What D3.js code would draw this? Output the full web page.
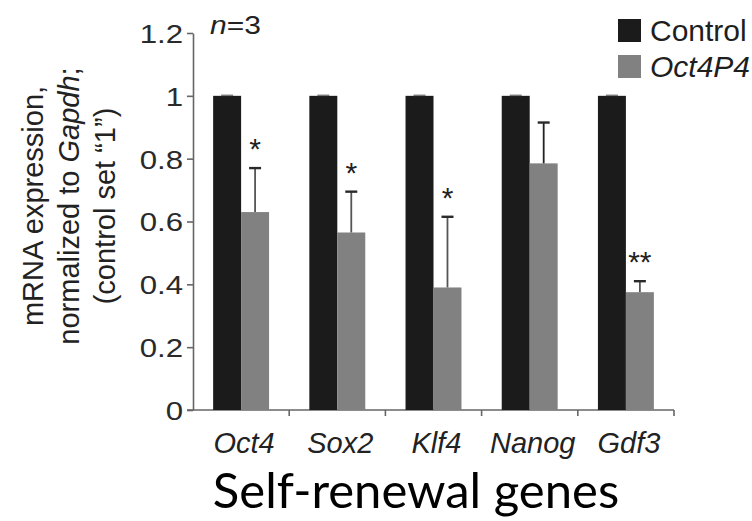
<!DOCTYPE html>
<html>
<head>
<meta charset="utf-8">
<script src="https://cdn.jsdelivr.net/npm/d3@7"></script>
<style>
  html, body { margin: 0; padding: 0; background: #fff; }
  svg { display: block; }
  .axis path, .axis line { stroke: #666; stroke-width: 1.6; }
  .axis text { font-family: "Liberation Sans", Arial, sans-serif; fill: #2a2a2a; }
</style>
</head>
<body>
<div id="chart"></div>
<script>
// data
const genes = ['Oct4', 'Sox2', 'Klf4', 'Nanog', 'Gdf3'];
const series = ['Control', 'Oct4P4'];
const controlValues = [1, 1, 1, 1, 1];
const oct4p4Values = [0.63, 0.565, 0.39, 0.785, 0.375];
const oct4p4Errors = [0.14, 0.13, 0.225, 0.13, 0.035];
const significance = ['*', '*', '*', '', '**'];
const yTicks = [0, 0.2, 0.4, 0.6, 0.8, 1, 1.2];

const width = 752;
const height = 521;

const colors = { Control: '#1b1b1b', Oct4P4: '#818181' };

const svg = d3.select('#chart')
    .append('svg')
    .attr('width', width)
    .attr('height', height);

// scales
const x = d3.scaleBand()
    .domain(genes)
    .range([193, 674])
    .paddingInner(0)
    .paddingOuter(0);

const x1 = d3.scaleBand()
    .domain(series)
    .range([0, x.bandwidth()])
    .paddingInner(0)
    .paddingOuter(0.72);

const y = d3.scaleLinear()
    .domain([0, 1.2])
    .range([410, 33]);

// y axis
const yAxis = d3.axisLeft(y)
    .tickValues(yTicks)
    .tickFormat(d => String(d))
    .tickSize(6)
    .tickSizeOuter(0)
    .tickPadding(10);

const yAxisGroup = svg.append('g')
    .classed('axis', true)
    .attr('transform', 'translate(193,0)')
    .call(yAxis);

yAxisGroup.selectAll('text')
    .style('font-size', '26px')
    .attr('transform', 'scale(1.2,1)')
    .attr('x', -10 / 1.2)
    .attr('dy', '0.36em');

// x axis: line plus ticks on band boundaries
const xAxisGroup = svg.append('g')
    .classed('axis', true);

xAxisGroup.append('line')
    .attr('x1', 187)
    .attr('x2', x.range()[1])
    .attr('y1', y(0))
    .attr('y2', y(0));

xAxisGroup.selectAll('.bound')
    .data(genes)
    .enter()
    .append('line')
    .classed('bound', true)
    .attr('x1', d => x(d) + x.bandwidth())
    .attr('x2', d => x(d) + x.bandwidth())
    .attr('y1', y(0))
    .attr('y2', y(0) + 6);

// gene labels
svg.append('g')
    .selectAll('text')
    .data(genes)
    .enter()
    .append('text')
    .attr('x', d => x(d) + x.bandwidth() / 2 + 3)
    .attr('y', 453)
    .attr('text-anchor', 'middle')
    .style('font-family', '"Liberation Sans", Arial, sans-serif')
    .style('font-style', 'italic')
    .style('font-size', '29px')
    .style('fill', '#222')
    .text(d => d);

// bars
const rows = genes.map((g, i) => ({
    gene: g,
    control: controlValues[i],
    treated: oct4p4Values[i],
    err: oct4p4Errors[i],
    sig: significance[i]
}));

const groups = svg.append('g')
    .selectAll('.gene')
    .data(rows)
    .enter()
    .append('g')
    .classed('gene', true)
    .attr('transform', d => `translate(${x(d.gene)},0)`);

groups.append('rect')
    .attr('x', x1('Control'))
    .attr('width', x1.bandwidth())
    .attr('y', d => y(d.control))
    .attr('height', d => y(0) - y(d.control))
    .style('fill', colors.Control);

// tiny cap on control bars (error = 0)
groups.append('line')
    .attr('x1', x1('Control') + x1.bandwidth() / 2 - 6)
    .attr('x2', x1('Control') + x1.bandwidth() / 2 + 6)
    .attr('y1', d => y(d.control) - 0.5)
    .attr('y2', d => y(d.control) - 0.5)
    .style('stroke', '#777')
    .style('stroke-width', 1.5);

groups.append('rect')
    .attr('x', x1('Oct4P4'))
    .attr('width', x1.bandwidth())
    .attr('y', d => y(d.treated))
    .attr('height', d => y(0) - y(d.treated))
    .style('fill', colors.Oct4P4);

// error bars
const cx = x1('Oct4P4') + x1.bandwidth() / 2;
groups.append('line')
    .attr('x1', cx)
    .attr('x2', cx)
    .attr('y1', d => y(d.treated))
    .attr('y2', d => y(d.treated + d.err))
    .style('stroke', (d, i) => i === 3 ? '#222' : '#555')
    .style('stroke-width', 1.8);

groups.append('line')
    .attr('x1', cx - 6)
    .attr('x2', cx + 6)
    .attr('y1', d => y(d.treated + d.err))
    .attr('y2', d => y(d.treated + d.err))
    .style('stroke', '#2a2a2a')
    .style('stroke-width', 2.4);

// significance stars
groups.append('text')
    .attr('x', cx)
    .attr('y', d => y(d.treated + d.err) - 9)
    .attr('text-anchor', 'middle')
    .style('font-family', '"Liberation Sans", Arial, sans-serif')
    .style('font-size', '30px')
    .style('fill', '#222')
    .text(d => d.sig);

// n=3
const nText = svg.append('text')
    .attr('x', 210 / 1.2)
    .attr('y', 34)
    .attr('transform', 'scale(1.2,1)')
    .style('font-family', '"Liberation Sans", Arial, sans-serif')
    .style('font-size', '25px')
    .style('fill', '#222');
nText.append('tspan').style('font-style', 'italic').text('n');
nText.append('tspan').text('=3');

// y title
const titleLines = [
    [{ t: 'mRNA expression,' }],
    [{ t: 'normalized to ' }, { t: 'Gapdh', i: true }, { t: ';' }],
    [{ t: '(control set \u201C1\u201D)' }]
];
const titleGroup = svg.append('g')
    .attr('transform', 'translate(0,206) rotate(-90)');
titleLines.forEach((line, k) => {
    const t = titleGroup.append('text')
        .attr('x', 0)
        .attr('y', 43 + k * 36)
        .attr('text-anchor', 'middle')
        .style('font-family', '"Liberation Sans", Arial, sans-serif')
        .style('font-size', '29px')
        .style('fill', '#222');
    line.forEach(p => {
        t.append('tspan')
            .style('font-style', p.i ? 'italic' : 'normal')
            .text(p.t);
    });
});

// legend
const legend = svg.append('g')
    .attr('transform', 'translate(618,19)');
const legendItems = legend.selectAll('g')
    .data(series)
    .enter()
    .append('g')
    .attr('transform', (d, i) => `translate(0,${i * 36})`);
legendItems.append('rect')
    .attr('width', 23)
    .attr('height', 23)
    .style('fill', d => colors[d]);
legendItems.append('text')
    .attr('x', 32)
    .attr('y', 22)
    .style('font-family', '"Liberation Sans", Arial, sans-serif')
    .style('font-size', '30px')
    .style('font-style', d => d === 'Oct4P4' ? 'italic' : 'normal')
    .style('fill', '#1e1e1e')
    .text(d => d);

// x title
svg.append('text')
    .attr('x', 416)
    .attr('y', 508)
    .attr('text-anchor', 'middle')
    .style('font-family', 'Lato, "Open Sans", sans-serif')
    .style('font-size', '49px')
    .style('fill', '#000')
    .text('Self-renewal genes');
</script>
</body>
</html>
